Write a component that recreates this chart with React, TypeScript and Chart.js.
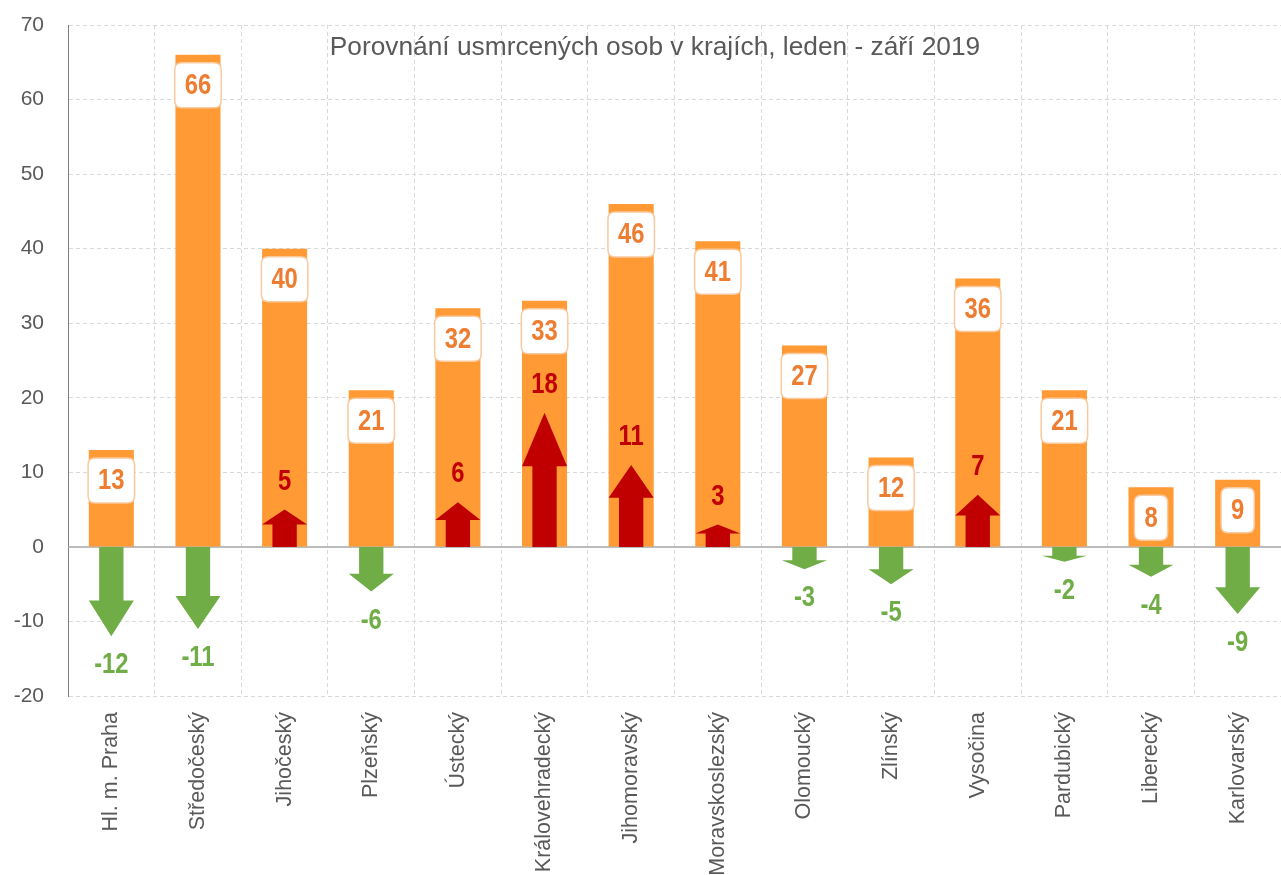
import React, { useEffect, useRef } from "react";
import { Chart, registerables } from "chart.js";

Chart.register(...registerables);

const categories = [
  "Hl. m. Praha",
  "Středočeský",
  "Jihočeský",
  "Plzeňský",
  "Ústecký",
  "Královehradecký",
  "Jihomoravský",
  "Moravskoslezský",
  "Olomoucký",
  "Zlínský",
  "Vysočina",
  "Pardubický",
  "Liberecký",
  "Karlovarský",
];
const deaths2019 = [13, 66, 40, 21, 32, 33, 46, 41, 27, 12, 36, 21, 8, 9];
const changeVsPrev = [-12, -11, 5, -6, 6, 18, 11, 3, -3, -5, 7, -2, -4, -9];
const titleText = "Porovnání usmrcených osob v krajích, leden - září 2019";

const FONT = '"Liberation Sans", Arial, sans-serif';
const NARROW = 0.82;
const GRAY = "#595959";
const BAR = "#FF9A35";
const LABEL_ORANGE = "#ED7D31";
const UP_RED = "#C00000";
const DOWN_GREEN = "#70AD47";

function roundRect(ctx: CanvasRenderingContext2D, x: number, y: number, w: number, h: number, r: number) {
  ctx.beginPath();
  ctx.moveTo(x + r, y);
  ctx.lineTo(x + w - r, y);
  ctx.quadraticCurveTo(x + w, y, x + w, y + r);
  ctx.lineTo(x + w, y + h - r);
  ctx.quadraticCurveTo(x + w, y + h, x + w - r, y + h);
  ctx.lineTo(x + r, y + h);
  ctx.quadraticCurveTo(x, y + h, x, y + h - r);
  ctx.lineTo(x, y + r);
  ctx.quadraticCurveTo(x, y, x + r, y);
  ctx.closePath();
}

function narrowText(ctx: CanvasRenderingContext2D, txt: string, x: number, y: number) {
  ctx.save();
  ctx.translate(x, y);
  ctx.scale(NARROW, 1);
  ctx.textAlign = "center";
  ctx.textBaseline = "middle";
  ctx.fillText(txt, 0, 0);
  ctx.restore();
}

const overlayPlugin = {
  id: "overlay",
  beforeDatasetsDraw(chart: any) {
    const { ctx, chartArea, scales } = chart;
    const y0 = scales.y.getPixelForValue(0);
    ctx.save();
    ctx.strokeStyle = "#A6A6A6";
    ctx.lineWidth = 1.5;
    ctx.beginPath();
    ctx.moveTo(chartArea.left, y0);
    ctx.lineTo(chartArea.right, y0);
    ctx.stroke();
    ctx.fillStyle = GRAY;
    ctx.font = `26.3px ${FONT}`;
    ctx.textAlign = "center";
    ctx.textBaseline = "middle";
    ctx.fillText(titleText, 655, 48);
    ctx.restore();
  },
  afterDatasetsDraw(chart: any) {
    const { ctx, scales } = chart;
    const meta = chart.getDatasetMeta(0);
    const yS = scales.y;
    const y0 = yS.getPixelForValue(0);
    ctx.save();
    meta.data.forEach((bar: any, i: number) => {
      const x = bar.x;
      const w = bar.width;
      // value box
      const txt = String(deaths2019[i]);
      ctx.font = `bold 29px ${FONT}`;
      const tw = ctx.measureText(txt).width * NARROW;
      const bw = tw + 20;
      const bh = 45;
      const top = bar.y + 8;
      roundRect(ctx, x - bw / 2, top, bw, bh, 7);
      ctx.fillStyle = "#FFFFFF";
      ctx.fill();
      ctx.strokeStyle = "#F9C9A0";
      ctx.lineWidth = 1.5;
      ctx.stroke();
      ctx.fillStyle = LABEL_ORANGE;
      narrowText(ctx, txt, x, top + bh / 2 + 1);

      // arrow
      const c = changeVsPrev[i];
      const y1 = yS.getPixelForValue(c);
      const yb = y1 - 0.4 * (y1 - y0);
      const h = w / 2;
      const s = w * 0.27;
      ctx.beginPath();
      ctx.moveTo(x - s, y0);
      ctx.lineTo(x - s, yb);
      ctx.lineTo(x - h, yb);
      ctx.lineTo(x, y1);
      ctx.lineTo(x + h, yb);
      ctx.lineTo(x + s, yb);
      ctx.lineTo(x + s, y0);
      ctx.closePath();
      const col = c >= 0 ? UP_RED : DOWN_GREEN;
      ctx.fillStyle = col;
      ctx.fill();

      // change label
      ctx.font = `bold 29px ${FONT}`;
      ctx.fillStyle = col;
      const ly = c >= 0 ? y1 - 28 : y1 + 29;
      narrowText(ctx, String(c), x, ly);
    });
    ctx.restore();
  },
};

export default function App() {
  const ref = useRef<HTMLCanvasElement | null>(null);
  useEffect(() => {
    document.body.style.margin = "0";
    const canvas = ref.current;
    if (!canvas) return;
    const chart = new Chart(canvas, {
      type: "bar",
      data: {
        labels: categories,
        datasets: [
          {
            data: deaths2019,
            backgroundColor: BAR,
            borderWidth: 0,
            barPercentage: 0.52,
            categoryPercentage: 1,
          },
        ],
      },
      options: {
        animation: false,
        responsive: true,
        maintainAspectRatio: false,
        layout: { padding: { top: 25, right: 0, left: 0, bottom: 0 } },
        plugins: {
          legend: { display: false },
          title: { display: false },
          tooltip: { enabled: false },
        },
        scales: {
          x: {
            grid: {
              offset: true,
              drawTicks: false,
              color: "#D9D9D9",
              lineWidth: 1,
            },
            border: { display: false, dash: [4, 3] },
            ticks: {
              minRotation: 90,
              maxRotation: 90,
              padding: 16,
              color: GRAY,
              font: { family: FONT, size: 21.5 },
              autoSkip: false,
            },
            afterFit: (scale: any) => {
              scale.height = 179;
            },
          },
          y: {
            min: -20,
            max: 70,
            grid: {
              drawTicks: false,
              color: (c: any) => (c.tick && c.tick.value === 0 ? "rgba(0,0,0,0)" : "#D9D9D9"),
              lineWidth: 1,
            },
            border: { display: true, color: "#808080", width: 1, dash: [4, 3] },
            ticks: {
              stepSize: 10,
              padding: 24,
              color: GRAY,
              font: { family: FONT, size: 21 },
            },
            afterFit: (scale: any) => {
              scale.width = 68;
              scale.paddingTop = 0;
              scale.paddingBottom = 0;
            },
          },
        },
      },
      plugins: [overlayPlugin],
    });
    return () => chart.destroy();
  }, []);
  return (
    <div style={{ width: 1281, height: 875, position: "relative" }}>
      <canvas ref={ref} />
    </div>
  );
}
